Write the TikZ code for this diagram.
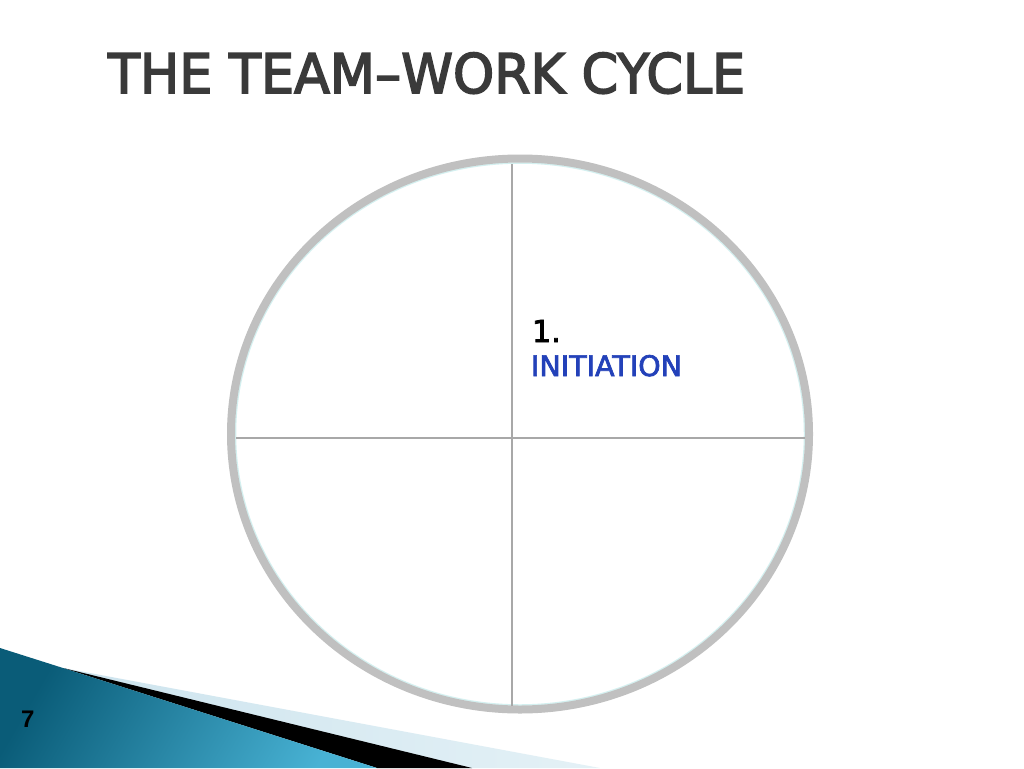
\documentclass[tikz,border=0pt]{standalone}
\usepackage{fontspec}
\setmainfont{DejaVu Sans}
\newfontfamily\numfont{Liberation Sans}
\newfontfamily\titlefont{DejaVu Sans}[FakeBold=3]
\newfontfamily\labelfont{DejaVu Sans}[FakeBold=2.5]
\definecolor{titlegray}{RGB}{58,58,58}
\definecolor{ringgray}{RGB}{192,192,192}
\definecolor{crossgray}{RGB}{168,168,168}
\definecolor{ringcyan}{RGB}{212,240,240}
\definecolor{initblue}{RGB}{35,65,185}
\definecolor{tealdark}{RGB}{10,92,120}
\definecolor{teallight}{RGB}{72,178,212}
\definecolor{bandblue}{RGB}{205,228,238}
\definecolor{bandlight}{RGB}{228,241,246}
\begin{document}
\begin{tikzpicture}[x=1pt,y=-1pt,
  txt/.style={inner sep=0pt,outer sep=0pt,anchor=base west},
  ring/.style={draw=ringgray,line width=8pt},
  crossline/.style={draw=crossgray,line width=1.2pt}]
\useasboundingbox[fill=white] (0,0) rectangle (1024,768);
% bottom-left decoration
\path[left color=bandblue,right color=bandlight] (63,668) -- (600,768) -- (460,768) -- cycle;
\path[fill=black] (63,668) -- (472,768) -- (377,768) -- cycle;
\path[left color=tealdark,right color=teallight,shading angle=60] (0,648) -- (63,668) -- (377,768) -- (0,768) -- cycle;
% ring
\coordinate (c) at (520,434);
\draw[ringcyan,line width=1.5pt] (c) ellipse [x radius=284.5,y radius=271];
\draw[ring] (c) ellipse [x radius=289,y radius=275.5];
% cross
\coordinate (vt) at (512,164);
\coordinate (vb) at (512,706);
\coordinate (hl) at (236,438);
\coordinate (hr) at (805,438);
\draw[crossline] (vt) -- (vb);
\draw[crossline] (hl) -- (hr);
% texts
\node[txt,text=titlegray] (title) at (108,93) {\resizebox{637pt}{40.5pt}{\titlefont THE TEAM–WORK CYCLE}};
\node[txt,text=black] (num) at (532,342) {\resizebox{!}{22pt}{\labelfont 1.}};
\node[txt,text=initblue] (init) at (531,376) {\resizebox{151pt}{21pt}{\labelfont INITIATION}};
\node[txt,text=black] (page) at (21,727) {\numfont\bfseries\fontsize{24}{26}\selectfont 7};
\end{tikzpicture}
\end{document}
